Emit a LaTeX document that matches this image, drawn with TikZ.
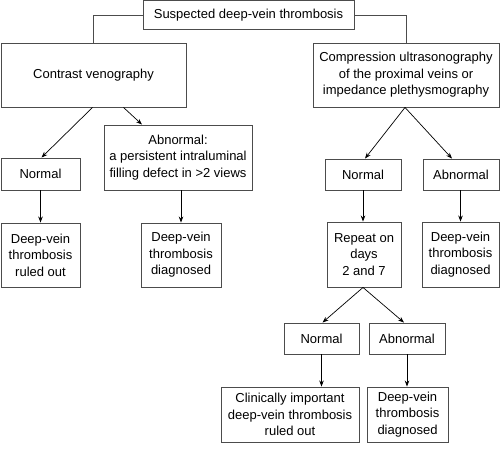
\documentclass[tikz,border=0pt]{standalone}
\usepackage{fontspec}
\setmainfont{Liberation Sans}
\usetikzlibrary{arrows.meta}
\begin{document}
\begin{tikzpicture}[x=1pt,y=-1pt,
  box/.style={draw=black!70,line width=0.9pt,inner sep=0pt,align=center,
    font=\fontsize{13}{16.5}\selectfont},
  conn/.style={draw=black!70,line width=0.9pt},
  arr/.style={draw=black,line width=0.7pt,-{Stealth[length=6pt,width=4.5pt]}}]
\useasboundingbox (0,0) rectangle (500,452);
\node[box,minimum width=211pt,minimum height=29pt] (top) at (248.5,15) {Suspected deep-vein thrombosis};
\node[box,minimum width=185pt,minimum height=64pt] (contrast) at (93.5,75) {Contrast venography};
\node[box,minimum width=186pt,minimum height=64pt] (comp) at (406,75) {Compression ultrasonography\\of the proximal veins or\\impedance plethysmography};
\node[box,minimum width=148pt,minimum height=65pt] (abn1) at (178,157.5) {Abnormal:\\a persistent intraluminal\\filling defect in >2 views};
\node[box,minimum width=79pt,minimum height=32pt] (norm1) at (40.5,174) {Normal};
\node[box,minimum width=79pt,minimum height=64pt] (dvt1) at (40.5,255) {Deep-vein\\thrombosis\\ruled out};
\node[box,minimum width=80pt,minimum height=64pt] (dvt2) at (181,255) {Deep-vein\\thrombosis\\diagnosed};
\node[box,minimum width=76pt,minimum height=31pt] (norm2) at (363,174.5) {Normal};
\node[box,minimum width=76pt,minimum height=31pt] (abn2) at (461,174.5) {Abnormal};
\node[box,minimum width=74pt,minimum height=65pt] (rep) at (364,254.5) {Repeat on\\days\\2 and 7};
\node[box,minimum width=77pt,minimum height=65pt] (dvt3) at (460.5,254.5) {Deep-vein\\thrombosis\\diagnosed};
\node[box,minimum width=75pt,minimum height=31pt] (norm3) at (321.5,338.5) {Normal};
\node[box,minimum width=76pt,minimum height=31pt] (abn3) at (407,338.5) {Abnormal};
\node[box,minimum width=138pt,minimum height=55pt] (clin) at (290,414.5) {Clinically important\\deep-vein thrombosis\\ruled out};
\node[box,minimum width=81pt,minimum height=55pt] (dvt4) at (407.5,414.5) {Deep-vein\\thrombosis\\diagnosed};
\draw[conn] (top.west) -| (contrast.north);
\draw[conn] (top.east) -| (comp.north);
\draw[arr] ([xshift=-1pt]contrast.south) -- ([xshift=1pt]norm1.north);
\draw[arr] ([xshift=30pt]contrast.south) -- ([xshift=-36pt]abn1.north);
\draw[arr] (norm1.south) -- (dvt1.north);
\draw[arr] (abn1.south -| dvt2.north) -- (dvt2.north);
\draw[arr] ([xshift=-1pt]comp.south) -- ([xshift=2pt]norm2.north);
\draw[arr] ([xshift=-1pt]comp.south) -- ([xshift=-9pt]abn2.north);
\draw[arr] (norm2.south) -- (norm2.south |- rep.north);
\draw[arr] (abn2.south -| dvt3.north) -- (dvt3.north);
\draw[arr] ([xshift=-1pt]rep.south) -- ([xshift=1pt]norm3.north);
\draw[arr] ([xshift=-1pt]rep.south) -- ([xshift=-3pt]abn3.north);
\draw[arr] (norm3.south) -- (norm3.south |- clin.north);
\draw[arr] (abn3.south) -- (abn3.south |- dvt4.north);
\end{tikzpicture}
\end{document}
